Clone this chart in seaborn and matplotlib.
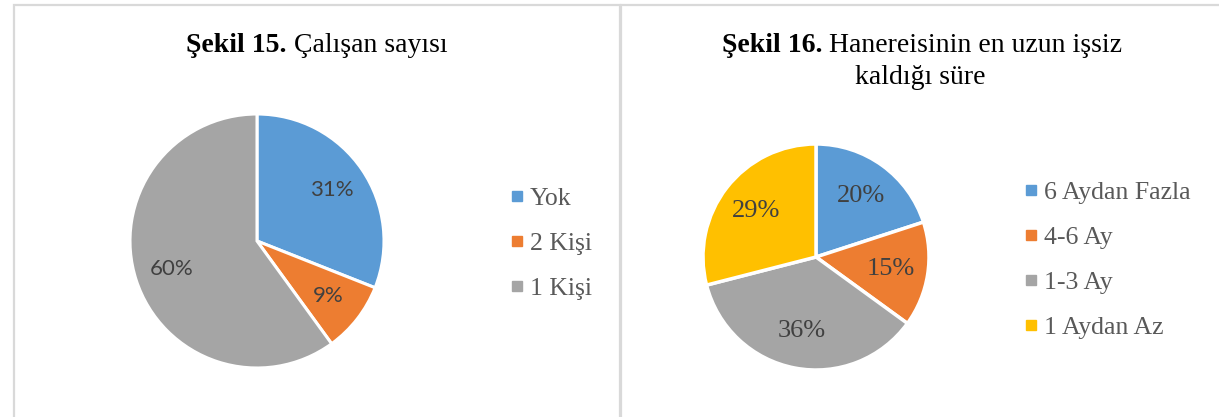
import seaborn as sns
import matplotlib.pyplot as plt
from matplotlib.patches import Rectangle
from matplotlib.lines import Line2D

# data
labels_15 = ['Yok', '2 Kişi', '1 Kişi']
values_15 = [31, 9, 60]
labels_16 = ['6 Aydan Fazla', '4-6 Ay', '1-3 Ay', '1 Aydan Az']
values_16 = [20, 15, 36, 29]

colors = ['#5B9BD5', '#ED7D31', '#A5A5A5', '#FFC000']

sns.set_theme(style='white')
plt.rcParams['font.family'] = ['Liberation Serif', 'DejaVu Serif']

W, H = 1219, 417
fig = plt.figure(figsize=(W / 100, H / 100), dpi=100)
fig.patch.set_facecolor('white')


def px_axes(cx, cy, r):
    # square axes centred on pixel (cx, cy) measured from top-left
    return fig.add_axes([(cx - r) / W, (H - cy - r) / H, 2 * r / W, 2 * r / H])


# panel borders
for x0, x1 in [(14, 620), (621, 1240)]:
    fig.patches.append(Rectangle((x0 / W, -0.1), (x1 - x0) / W, (H - 5) / H + 0.1,
                                 transform=fig.transFigure, fill=False,
                                 edgecolor='#D9D9D9', linewidth=1.6))


def title(parts, cx, cy, size=20):
    # bold + regular pieces on one line, centred at cx
    r = fig.canvas.get_renderer()
    texts = []
    for s, w in parts:
        t = fig.text(0, 1 - cy / H, s, fontsize=size, fontweight=w,
                     color='black', va='center', ha='left')
        texts.append(t)
    widths = [t.get_window_extent(r).width for t in texts]
    x = cx - sum(widths) / 2
    for t, w in zip(texts, widths):
        t.set_x(x / W)
        x += w


title([('Şekil 15.', 'bold'), (' Çalışan sayısı', 'normal')], 317, 45)
title([('Şekil 16.', 'bold'), (' Hanereisinin en uzun işsiz', 'normal')], 922, 45)
title([('kaldığı süre', 'normal')], 920, 77)

# left pie
ax1 = px_axes(257, 241, 127)
ax1.pie(values_15, colors=colors[:3], startangle=90, counterclock=False,
        autopct='%1.0f%%', pctdistance=0.71,
        wedgeprops=dict(edgecolor='white', linewidth=2.2),
        textprops=dict(color='#404040', fontsize=16, family='Lato'))
ax1.set_xlim(-1, 1)
ax1.set_ylim(-1, 1)
ax1.set_aspect('equal')
ax1.axis('off')

# right pie
ax2 = px_axes(816, 257, 113)
ax2.pie(values_16, colors=colors, startangle=90, counterclock=False,
        autopct='%1.0f%%', pctdistance=0.67,
        wedgeprops=dict(edgecolor='white', linewidth=2.5),
        textprops=dict(color='#404040', fontsize=19))
ax2.set_xlim(-1, 1)
ax2.set_ylim(-1, 1)
ax2.set_aspect('equal')
ax2.axis('off')


def legend(labels, cols, x, y):
    handles = [Line2D([], [], marker='s', linestyle='none', markersize=7.5,
                      markerfacecolor=c, markeredgecolor=c) for c in cols]
    fig.legend(handles, labels, loc='upper left', bbox_to_anchor=(x / W, 1 - y / H),
               frameon=False, fontsize=18.5, labelcolor='#595959',
               handlelength=0.6, handletextpad=0.2, labelspacing=0.86,
               borderpad=0, borderaxespad=0)


legend(labels_15, colors[:3], 509, 187)
legend(labels_16, colors, 1023, 181)

fig.savefig('out.png', dpi=100, facecolor='white')
